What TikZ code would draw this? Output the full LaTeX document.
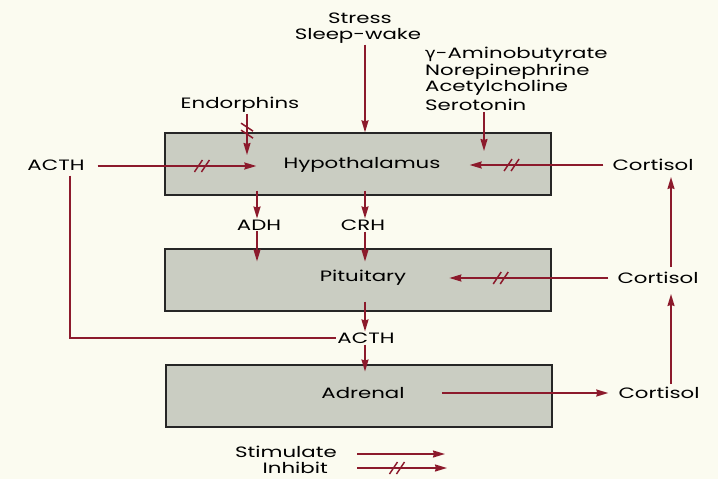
\documentclass[tikz,border=0pt]{standalone}
\usepackage{fontspec}
\setmainfont{Poppins}[FakeStretch=1.42]
\newfontfamily\grk{DejaVu Sans}[FakeStretch=1.2]
\usetikzlibrary{arrows.meta,decorations.markings,positioning,calc}
\definecolor{hred}{HTML}{8C1A2C}
\definecolor{paper}{HTML}{FBFBF0}
\definecolor{boxgrey}{HTML}{CACDC2}
\tikzset{
  lbl/.style={inner sep=1pt, font=\fontsize{15}{17}\selectfont},
  organ/.style={draw=black!85, line width=1.3pt, fill=boxgrey, minimum width=386pt, minimum height=62pt, inner sep=0pt},
  stim/.style={hred, line width=1.7pt, -{Stealth[length=12pt,width=7pt,inset=1pt]}},
  inhibit/.style={stim, postaction={decorate, decoration={markings,
      mark=at position #1 with {\draw[-, hred, line width=1.5pt] (-8pt,-6pt)--(0pt,6pt) (-1pt,-6pt)--(7pt,6pt);}}}},
  inhibit/.default=0.45
}
\begin{document}
\begin{tikzpicture}[x=1pt,y=-1pt]
  \fill[paper] (0,0) rectangle (718,479);
  \useasboundingbox (0,0) rectangle (718,479);

  % the three boxes
  \node[organ] (hypbox) at (358,164) {};
  \node[organ] (pitbox) at (358,280) {};
  \node[organ] (adrbox) at (359,396) {};
  \node[lbl] (hyp) at (362,165) {Hypothalamus};
  \node[lbl] (pit) at (363,278) {Pituitary};
  \node[lbl] (adr) at (363,393) {Adrenal};

  % inputs on top
  \node[lbl] (stress) at (360,18) {Stress};
  \node[lbl] (sleep) at (358,36) {Sleep-wake};
  \node[lbl] (endo) at (240,105) {Endorphins};
  \node[lbl, anchor=west] (gaba) at (424,55) {{\grk γ}-Aminobutyrate};
  \node[lbl, anchor=west] (nore) at (424,72) {Norepinephrine};
  \node[lbl, anchor=west] (acet) at (424,88) {Acetylcholine};
  \node[lbl, anchor=west] (sero) at (424,105) {Serotonin};

  % hormones
  \node[lbl] (adh) at (259,225) {ADH};
  \node[lbl] (crh) at (363,225) {CRH};
  \node[lbl] (acth) at (366,338) {ACTH};
  \node[lbl] (acthl) at (56,165) {ACTH};
  \node[lbl] (cort1) at (653,165) {Cortisol};
  \node[lbl] (cort2) at (658,278) {Cortisol};
  \node[lbl] (cort3) at (659,393) {Cortisol};

  \coordinate (endotip) at (247,155);
  \coordinate (serotip) at (484,151);
  \coordinate (acthcorner) at (70,340);

  % stimulate
  \draw[stim] (sleep.south -| 365,0) -- (hypbox.north -| 365,0);
  \draw[stim] (sero.south -| serotip) -- (serotip);
  \draw[stim] (hypbox.south -| 257,0) ++(0,-5) -- (adh.north -| 257,0);
  \draw[stim] (hypbox.south -| 365,0) ++(0,-5) -- (crh.north -| 365,0);
  \draw[stim] (adh.south -| 257,0) -- ++(0,30);
  \draw[stim] (crh.south -| 365,0) -- ++(0,30);
  \draw[stim] (pitbox.south -| 365,0) ++(0,-10) -- (acth.north -| 365,0);
  \draw[stim] (acth.south -| 365,0) -- ++(0,27);
  \draw[stim, shorten >=9pt] (adr.east) ++(36,0) -- (cort3.west);
  \draw[stim, shorten >=9pt, shorten <=2pt] (cort3.north -| 671,0) -- (cort2.south -| 671,0);
  \draw[stim, shorten >=5pt, shorten <=4pt] (cort2.north -| 671,0) -- (cort1.south -| 671,0);
  \draw[hred, line width=1.7pt] (acthl.south -| acthcorner) ++(0,4) -- (acthcorner |- acth.west) -- (acth.west);

  % inhibit
  \draw[inhibit=0.42] (endo.south -| endotip) -- (endotip);
  \draw[inhibit=0.66] (acthl.east) ++(12,1) -- ($(hyp.west)+(-26,1)$);
  \draw[inhibit=0.69] (cort1.west) ++(-8,0) -- ($(hyp.east)+(28,0)$);
  \draw[inhibit=0.68] (cort2.west) ++(-8,0) -- ($(pit.east)+(42,0)$);

  % key
  \node[lbl, anchor=east] (stimkey) at (338,452) {Stimulate};
  \node[lbl, anchor=east] (inhkey) at (329,468) {Inhibit};
  \draw[stim] (stimkey.east) ++(19,2) -- ++(88,0);
  \draw[inhibit=0.45] (inhkey.east) ++(28,0) -- ++(90,0);
\end{tikzpicture}
\end{document}
